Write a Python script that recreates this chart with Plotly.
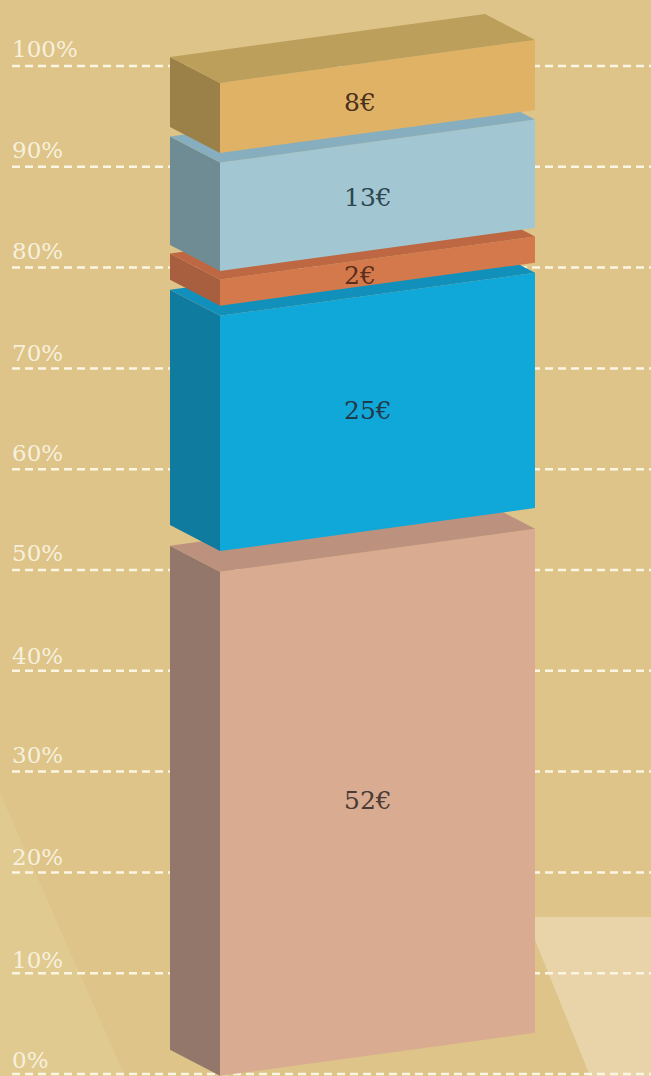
import plotly.graph_objects as go

# --- data ---
amounts = ["52€", "25€", "2€", "13€", "8€"]
block_bottom = [2.4, 54.46, 78.8, 82.25, 93.95]
block_top = [52.4, 77.8, 81.4, 93.0, 100.9]
label_level = [27.1, 65.8, 79.2, 87.0, 96.4]
label_colors = ["#4A3A35", "#23394B", "#5A2E1C", "#2E4650", "#4A2F1C"]
front_colors = ["#D9AB91", "#0FA8D8", "#D4794B", "#A2C7D2", "#DFB266"]
side_colors = ["#93776A", "#0F7B9E", "#A75F3F", "#6F8C94", "#9B8048"]
top_colors = ["#BC927E", "#1290BC", "#BD6843", "#87AEBE", "#BD9F5C"]
tick_values = [0, 10, 20, 30, 40, 50, 60, 70, 80, 90, 100]
tick_labels = ["0%", "10%", "20%", "30%", "40%", "50%", "60%", "70%", "80%", "90%", "100%"]
tick_label_level = [1.4, 11.3, 21.5, 31.6, 41.5, 51.7, 61.6, 71.5, 81.6, 91.7, 101.7]

# --- picture geometry ---
W, H = 651, 1076
PX_PER_PCT = 10.08
Y0_PX = 1074
X_BACK, X_FRONT, X_RIGHT, X_BACK_RIGHT = 170, 220, 535, 485
DEPTH = 26 / PX_PER_PCT
RISE = 43 / PX_PER_PCT
BG = "#DEC488"


def poly(xs, ys, color):
    return go.Scatter(x=xs + xs[:1], y=ys + ys[:1], mode="lines", fill="toself",
                      fillcolor=color, line=dict(width=0), hoverinfo="skip", showlegend=False)


def px(y):
    return (Y0_PX - y) / PX_PER_PCT


fig = go.Figure()

# lighter floor shapes in the background
fig.add_trace(poly([0, 125, 0], [px(793), px(1076), px(1076)], "#E0CA90"))
fig.add_trace(poly([535, 651, 651, 590, 535],
                   [px(917), px(917), px(1076), px(1076), px(940)], "#E9D4AA"))

# dashed gridlines
for v in tick_values:
    fig.add_trace(go.Scatter(x=[12, W], y=[v, v], mode="lines",
                             line=dict(color="#FBF5E4", width=2.5, dash="8px,5px"),
                             hoverinfo="skip", showlegend=False))

# stacked blocks, drawn bottom-up
for lo, hi, fc, sc, tc in zip(block_bottom, block_top, front_colors, side_colors, top_colors):
    fig.add_trace(poly([X_BACK, X_FRONT, X_FRONT, X_BACK],
                       [hi, hi - DEPTH, lo - DEPTH, lo], sc))
    fig.add_trace(poly([X_FRONT, X_RIGHT, X_RIGHT, X_FRONT],
                       [hi - DEPTH, hi - DEPTH + RISE, lo - DEPTH + RISE, lo - DEPTH], fc))
    fig.add_trace(poly([X_BACK, X_FRONT, X_RIGHT, X_BACK_RIGHT],
                       [hi, hi - DEPTH, hi - DEPTH + RISE, hi + RISE], tc))

annotations = []
for lv, t in zip(tick_label_level, tick_labels):
    annotations.append(dict(x=10, y=lv, text=t, showarrow=False, xanchor="left", yanchor="middle",
                            font=dict(family="DejaVu Serif", size=23, color="#F7F0DD")))
for lab, lv, col in zip(amounts, label_level, label_colors):
    annotations.append(dict(x=342, y=lv, text=lab, showarrow=False, xanchor="left", yanchor="middle",
                            font=dict(family="DejaVu Serif", size=25, color=col)))

fig.update_layout(
    width=W, height=H, margin=dict(l=0, r=0, t=0, b=0),
    paper_bgcolor=BG, plot_bgcolor=BG, showlegend=False, annotations=annotations,
    xaxis=dict(range=[0, W], visible=False, fixedrange=True),
    yaxis=dict(range=[px(H), px(0)], visible=False, fixedrange=True),
)
fig.write_html("out.html", config={"displayModeBar": False},
               post_script="document.body.style.margin='0';document.body.style.overflow='hidden';")
